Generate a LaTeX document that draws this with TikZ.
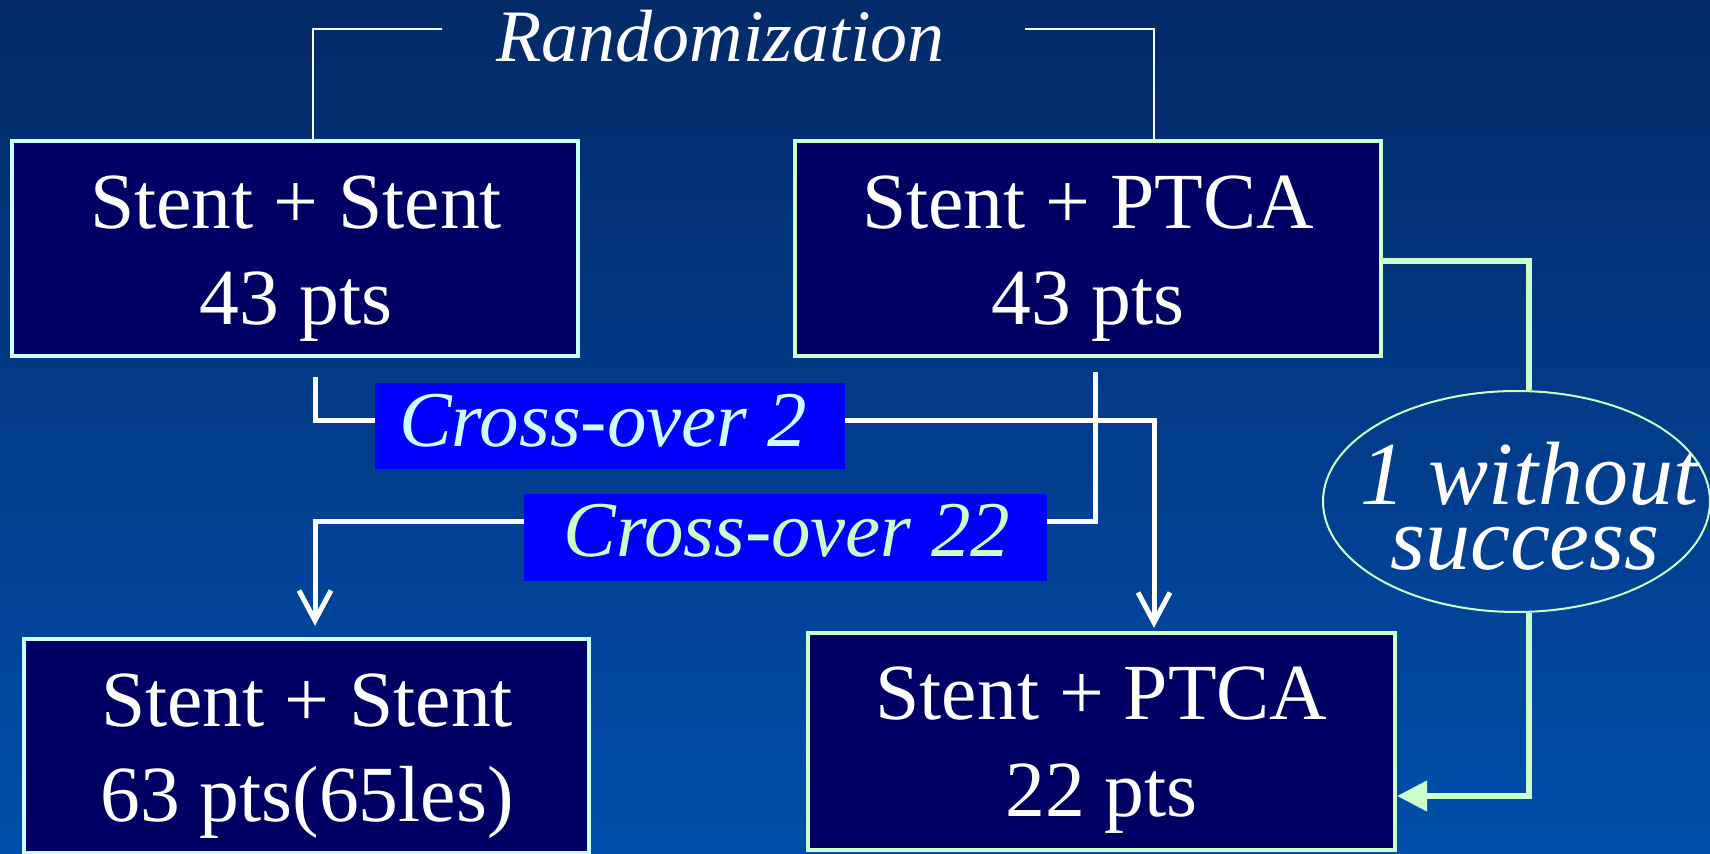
\documentclass[tikz,border=0pt]{standalone}
\usepackage{fontspec}
\setmainfont{Liberation Serif}
\usetikzlibrary{arrows.meta,shapes.geometric}
\definecolor{bgtop}{RGB}{4,42,104}
\definecolor{bgbot}{RGB}{0,78,172}
\definecolor{boxfill}{RGB}{0,0,100}
\definecolor{lcyan}{RGB}{204,255,255}
\definecolor{lgreen}{RGB}{204,255,204}
\definecolor{xblue}{RGB}{0,0,255}
\pgfdeclarelayer{bg}
\pgfdeclarelayer{lines}
\pgfsetlayers{bg,lines,main}
\begin{document}
\begin{tikzpicture}[x=0.5pt,y=-0.5pt,
  cbox/.style={draw=lcyan, line width=2.2pt, fill=boxfill, inner sep=0pt},
  gbox/.style={draw=lgreen, line width=2.2pt, fill=boxfill, inner sep=0pt},
  btext/.style={anchor=base, text=white, inner sep=0pt, font=\fontsize{39.8}{48}\selectfont},
  xbox/.style={fill=xblue, inner sep=0pt},
  xtext/.style={anchor=base, inner sep=0pt, font=\fontsize{39.5}{48}\selectfont\itshape},
  rtext/.style={anchor=base, text=white, inner sep=0pt, font=\fontsize{37}{44}\selectfont\itshape},
  etext/.style={anchor=base, text=white, inner sep=0pt, font=\fontsize{45}{50}\selectfont\itshape},
  wline/.style={draw=white, line width=2.5pt},
  warrow/.style={wline, -{Straight Barb[length=15pt,width=16pt]}},
  thinw/.style={draw=white, line width=0.8pt},
  gline/.style={draw=lgreen, line width=2.6pt},
  garrow/.style={gline, -{Triangle[length=15pt,width=15pt]}}
]
\begin{pgfonlayer}{bg}
\shade[top color=bgtop, bottom color=bgbot] (0,0) rectangle (1710,854);
\end{pgfonlayer}
\useasboundingbox (0,0) rectangle (1710,854);

% main boxes
\node[cbox, minimum width=283pt, minimum height=107.5pt] (b1) at (295,248.5) {};
\node[gbox, minimum width=293pt, minimum height=107.5pt] (b2) at (1088,248.5) {};
\node[cbox, minimum width=282.5pt, minimum height=107pt] (b3) at (306.5,746) {};
\node[gbox, minimum width=293.5pt, minimum height=108.5pt] (b4) at (1101.5,741.5) {};

\node[btext] (t1a) at (296,229) {Stent + Stent};
\node[btext] (t1b) at (296,325) {43 pts};
\node[btext] (t2a) at (1088,229) {Stent + PTCA};
\node[btext] (t2b) at (1088,325) {43 pts};
\node[btext] (t3a) at (307,727) {Stent + Stent};
\node[btext] (t3b) at (307,822) {63 pts(65les)};
\node[btext] (t4a) at (1101.5,720) {Stent + PTCA};
\node[btext] (t4b) at (1101.5,817) {22 pts};

% cross-over boxes
\node[xbox, minimum width=235pt, minimum height=43pt] (c2) at (610,426) {};
\node[xtext, text=lcyan] (c2t) at (603,447) {Cross-over 2};
\node[xbox, minimum width=261.5pt, minimum height=43.5pt] (c22) at (785.5,537.5) {};
\node[xtext, text=lgreen] (c22t) at (787,557) {Cross-over 22};

% randomization
\node[rtext] (rand) at (720.5,62) {Randomization};
\coordinate (rl) at (442,29);
\coordinate (rr) at (1025,29);

% ellipse
\node[ellipse, draw=lgreen, line width=1pt, minimum width=193.5pt, minimum height=110.5pt, inner sep=0pt] (ell) at (1516.5,501.5) {};
\node[etext] (e1) at (1529.5,504.5) {1 without};
\node[etext] (e2) at (1525,570) {success};

\begin{pgfonlayer}{lines}
\draw[thinw] (rl) -| ([xshift=9pt]b1.north);
\draw[thinw] (rr) -| ([xshift=33pt]b2.north);
\coordinate (s1) at ([xshift=10pt,yshift=-9.5pt]b1.south);
\coordinate (s2) at ([xshift=3.5pt,yshift=-7pt]b2.south);
\coordinate (a3) at ([xshift=4.25pt,yshift=5.5pt]b3.north);
\coordinate (a4) at ([xshift=26.25pt,yshift=1.5pt]b4.north);
\draw[warrow] (s1) |- ([yshift=2.5pt]c2.center) -| (a4);
\draw[warrow] (s2) |- ([yshift=7.75pt]c22.center) -| (a3);
\draw[gline] ([yshift=-6.25pt]b2.east) -| ([xshift=6.25pt]ell.north);
\draw[garrow] ([xshift=6.25pt]ell.south) |- ([yshift=-27.25pt]b4.east);
\end{pgfonlayer}
\end{tikzpicture}
\end{document}
